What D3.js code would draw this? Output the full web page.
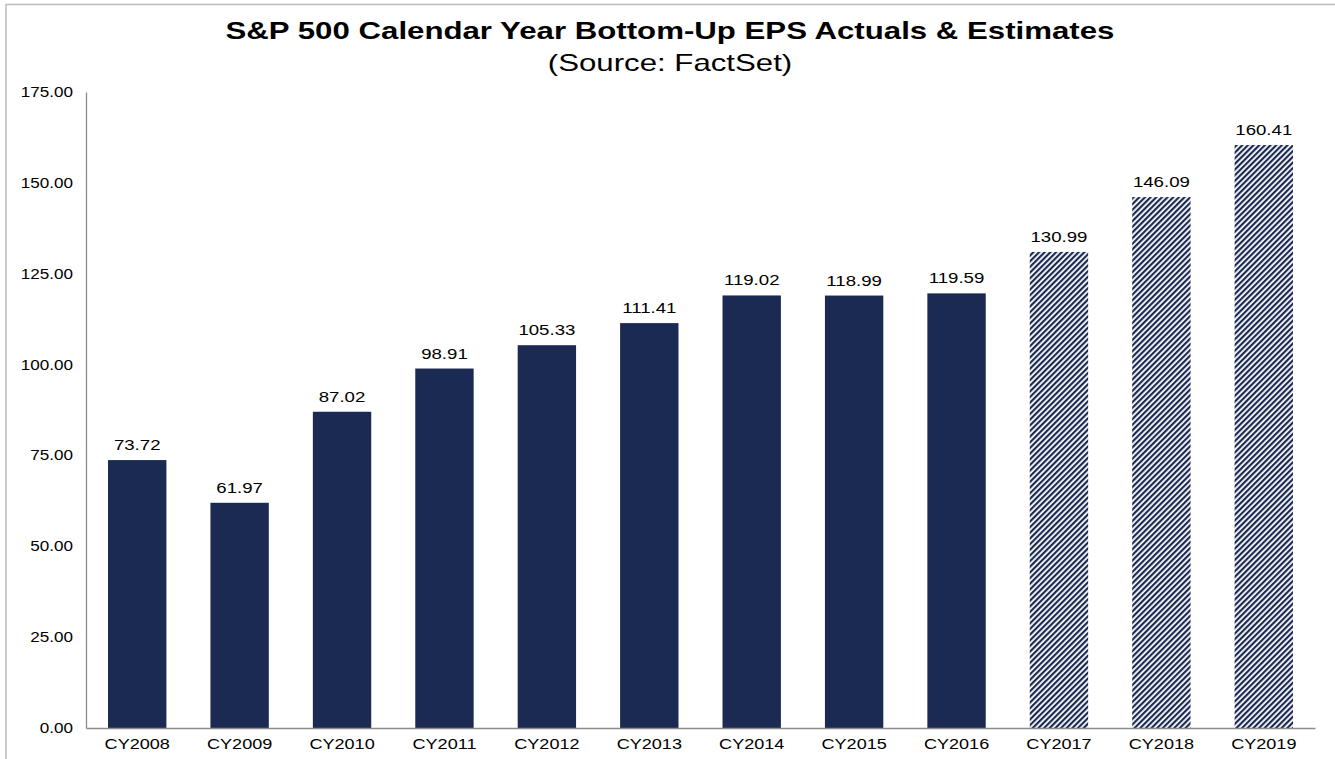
<!DOCTYPE html>
<html><head><meta charset="utf-8">
<script src="https://cdn.jsdelivr.net/npm/d3@7/dist/d3.min.js"></script>
<style>body{margin:0;background:#fff;}svg{display:block;font-family:"Liberation Sans",Arial,sans-serif;}</style>
</head><body>
<svg id="c" width="1335" height="759"></svg>
<script>
const categories = ["CY2008","CY2009","CY2010","CY2011","CY2012","CY2013","CY2014","CY2015","CY2016","CY2017","CY2018","CY2019"];
const values = [73.72,61.97,87.02,98.91,105.33,111.41,119.02,118.99,119.59,130.99,146.09,160.41];
const isEstimate = [false,false,false,false,false,false,false,false,false,true,true,true];
const yTicks = [0,25,50,75,100,125,150,175];
const titleText = "S&P 500 Calendar Year Bottom-Up  EPS Actuals & Estimates";
const subtitleText = "(Source: FactSet)";

const svg = d3.select("#c");
const navy = "#1b2a52";
const defs = svg.append("defs");
const pat = defs.append("pattern").attr("id","hatch").attr("patternUnits","userSpaceOnUse")
  .attr("width",4).attr("height",4).attr("patternTransform","rotate(45)");
pat.append("rect").attr("width",4).attr("height",4).attr("fill","#fff");
pat.append("rect").attr("width",2.2).attr("height",4).attr("fill",navy);

function stretch(sel, f){
  sel.each(function(){
    const l = this.getComputedTextLength();
    this.setAttribute("textLength", l*f);
    this.setAttribute("lengthAdjust","spacingAndGlyphs");
  });
}

// frame
svg.append("line").attr("x1",6).attr("x2",1335).attr("y1",4.5).attr("y2",4.5).attr("stroke","#bbb").attr("stroke-width",1.5);
svg.append("line").attr("x1",6).attr("x2",6).attr("y1",4).attr("y2",759).attr("stroke","#bbb").attr("stroke-width",1.5);

const m = {l:86, r:1315, t:92, b:728};
const x = d3.scaleBand().domain(categories).range([m.l,m.r]).paddingInner(0.43).paddingOuter(0.215);
const y = d3.scaleLinear().domain([0,175]).range([m.b,m.t]);

const t1 = svg.append("text").attr("x",670).attr("y",39).attr("text-anchor","middle")
  .attr("font-size",24).attr("font-weight","bold").attr("fill","#000").text(titleText);
stretch(t1,1.3);
const t2 = svg.append("text").attr("x",670).attr("y",71).attr("text-anchor","middle")
  .attr("font-size",24).attr("fill","#000").text(subtitleText);
stretch(t2,1.3);

// y axis
const ya = svg.append("g").attr("transform",`translate(${m.l},0)`)
  .call(d3.axisLeft(y).tickValues(yTicks).tickSize(0).tickPadding(13).tickFormat(d3.format(".2f")));
ya.select(".domain").attr("stroke","#8c8c8c").attr("stroke-width",1.3);
ya.selectAll("text").attr("font-size",14).attr("fill","#000").attr("font-family","Liberation Sans, Arial, sans-serif");
stretch(ya.selectAll("text"),1.22);

// bars
svg.selectAll("rect.bar").data(categories).enter().append("rect").attr("class","bar")
  .attr("x",d=>x(d)).attr("width",x.bandwidth())
  .attr("y",(d,i)=>y(values[i])).attr("height",(d,i)=>y(0)-y(values[i]))
  .attr("fill",(d,i)=>isEstimate[i]?"url(#hatch)":navy);

// value labels
const vl = svg.selectAll("text.val").data(categories).enter().append("text").attr("class","val")
  .attr("x",d=>x(d)+x.bandwidth()/2).attr("y",(d,i)=>y(values[i])-10)
  .attr("text-anchor","middle").attr("font-size",14).attr("fill","#000")
  .text((d,i)=>values[i].toFixed(2));
stretch(vl,1.33);

// x axis
const xa = svg.append("g").attr("transform",`translate(0,${m.b})`)
  .call(d3.axisBottom(x).tickSize(0).tickPadding(11));
xa.select(".domain").attr("stroke","#8c8c8c").attr("stroke-width",1.3);
xa.selectAll("text").attr("font-size",14).attr("fill","#000").attr("font-family","Liberation Sans, Arial, sans-serif");
stretch(xa.selectAll("text"),1.29);
</script>
</body></html>
